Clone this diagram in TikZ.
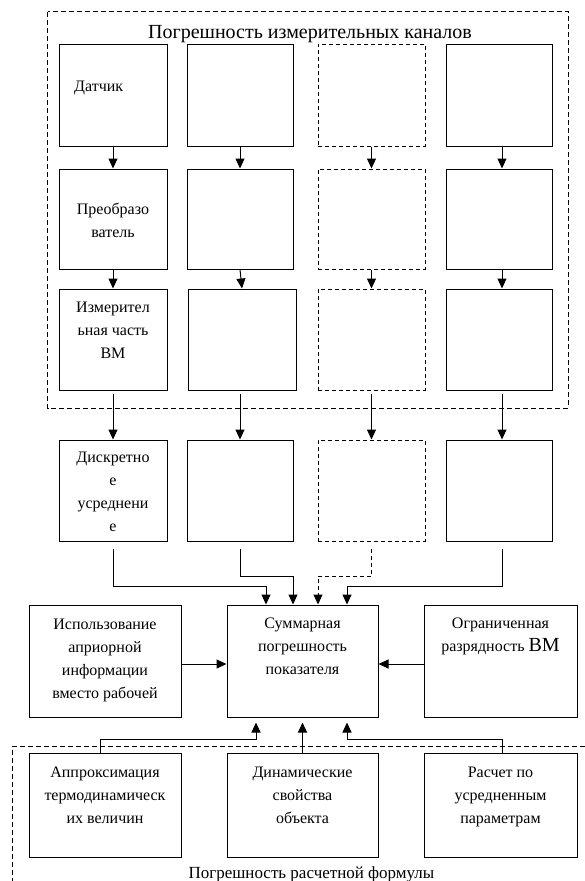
\documentclass[tikz,border=0pt]{standalone}
\usepackage{fontspec}
\setmainfont{Liberation Serif}
\usetikzlibrary{arrows.meta}
\begin{document}
\begin{tikzpicture}[x=1pt,y=-1pt,
  blk/.style={draw=black, line width=1pt, inner sep=0pt},
  dblk/.style={blk, dash pattern=on 4pt off 3pt},
  frame/.style={draw=black, line width=0.9pt, dash pattern=on 5pt off 3pt},
  lbl/.style={inner sep=0pt, align=center, anchor=north, font=\fontsize{16}{23}\selectfont},
  ttl/.style={inner sep=0pt, anchor=base},
  arr/.style={draw=black, line width=1pt, -{Triangle[length=10pt,width=9pt]}},
  darr/.style={arr, dash pattern=on 4pt off 3pt}]
\useasboundingbox (0,0) rectangle (585,881);

% frames
\draw[frame] (47.5,11.5) rectangle (568,408);
\draw[frame] (585,746.5) -- (12,746.5) -- (12,881);

\node[ttl, font=\fontsize{20}{24}\selectfont] (title1) at (310,38) {Погрешность измерительных каналов};
\node[ttl, font=\fontsize{17}{20}\selectfont] (title2) at (311.5,878) {Погрешность расчетной формулы};

% row 1
\node[blk, minimum width=108pt, minimum height=102pt] (b11) at (113,95) {};
\node[blk, minimum width=106pt, minimum height=102pt] (b12) at (240,95) {};
\node[dblk, minimum width=107pt, minimum height=102pt] (b13) at (371.5,95) {};
\node[blk, minimum width=106pt, minimum height=102pt] (b14) at (499,95) {};
% row 2
\node[blk, minimum width=108pt, minimum height=100pt] (b21) at (113,219) {};
\node[blk, minimum width=106pt, minimum height=100pt] (b22) at (240,219) {};
\node[dblk, minimum width=107pt, minimum height=100pt] (b23) at (371.5,219) {};
\node[blk, minimum width=106pt, minimum height=100pt] (b24) at (499,219) {};
% row 3
\node[blk, minimum width=108pt, minimum height=101pt] (b31) at (113,339.5) {};
\node[blk, minimum width=108pt, minimum height=101pt] (b32) at (242,339.5) {};
\node[dblk, minimum width=107pt, minimum height=101pt] (b33) at (371.5,339.5) {};
\node[blk, minimum width=106pt, minimum height=101pt] (b34) at (499,339.5) {};
% row 4
\node[blk, minimum width=108pt, minimum height=101pt] (b41) at (113,490.5) {};
\node[blk, minimum width=106pt, minimum height=101pt] (b42) at (240,490.5) {};
\node[dblk, minimum width=107pt, minimum height=101pt] (b43) at (371.5,490.5) {};
\node[blk, minimum width=106pt, minimum height=101pt] (b44) at (499,490.5) {};

% middle row
\node[blk, minimum width=152pt, minimum height=112pt] (lb) at (105,661) {};
\node[blk, minimum width=151pt, minimum height=112pt] (sum) at (302.5,661) {};
\node[blk, minimum width=153pt, minimum height=112pt] (rb) at (500.5,661) {};
% bottom row
\node[blk, minimum width=152pt, minimum height=104pt] (bb1) at (105,805) {};
\node[blk, minimum width=151pt, minimum height=104pt] (bb2) at (302.5,805) {};
\node[blk, minimum width=153pt, minimum height=104pt] (bb3) at (500.5,805) {};

% texts
\node[lbl, anchor=north west] (t11) at (74,74.9) {\strut Датчик};
\node[lbl] (t21) at (113,197.9) {\strut Преобразо\\ватель};
\node[lbl] (t31) at (113,295.9) {\strut Измерител\\ьная часть\\ВМ};
\node[lbl] (t41) at (113,445.9) {\strut Дискретно\\е\\усреднени\\е};
\node[lbl] (tl) at (105,612.9) {\strut Использование\\априорной\\информации\\вместо рабочей};
\node[lbl] (ts) at (302.5,611.9) {\strut Суммарная\\погрешность\\показателя};
\node[lbl] (tr) at (500.5,611.9) {\strut Ограниченная\\разрядность {\fontsize{20}{23}\selectfont ВМ}};
\node[lbl] (tb1) at (105,760.9) {\strut Аппроксимация\\термодинамическ\\их величин};
\node[lbl] (tb2) at (302.5,760.9) {\strut Динамические\\свойства\\объекта};
\node[lbl] (tb3) at (500.5,760.9) {\strut Расчет по\\усредненным\\параметрам};

% channel arrows
\foreach \c in {1,2,3} {
  \draw[arr] (b1\c.south) -- (b2\c.north);
  \draw[arr] (b2\c.south) -- (b3\c.north);
}
\draw[arr] ([xshift=3pt]b14.south) -- ([xshift=3pt]b24.north);
\draw[arr] ([xshift=3pt]b24.south) -- ([xshift=3pt]b34.north);
\draw[arr, shorten <=3pt] (b31.south) -- (b41.north);
\draw[arr, shorten <=3pt] (b32.south -| b22.south) -- (b42.north);
\draw[arr, shorten <=3pt] (b33.south) -- (b43.north);
\draw[arr, shorten <=3pt] ([xshift=3pt]b34.south) -- ([xshift=3pt]b44.north);

% into summary box from top
\draw[arr, shorten <=7pt] (b41.south) |- (266,586) -- (266,0 |- sum.north);
\draw[arr, shorten <=7pt] (b42.south) |- (293,576) -- (293,0 |- sum.north);
\draw[darr, shorten <=7pt] (b43.south) |- (318,576) -- (318,0 |- sum.north);
\draw[arr, shorten <=7pt] ([xshift=3pt]b44.south) |- (347,586) -- (347,0 |- sum.north);

% sides
\draw[arr] (lb.east |- 0,664) -- (sum.west |- 0,664);
\draw[arr] (rb.west |- 0,664) -- (sum.east |- 0,664);

% from bottom
\draw[arr, shorten >=5pt] (100,0 |- bb1.north) |- (256,739) -- (256,0 |- sum.south);
\draw[arr, shorten >=5pt] (bb2.north) -- (bb2.north |- sum.south);
\draw[arr, shorten >=5pt] (502,0 |- bb3.north) |- (347,739) -- (347,0 |- sum.south);
\end{tikzpicture}
\end{document}
